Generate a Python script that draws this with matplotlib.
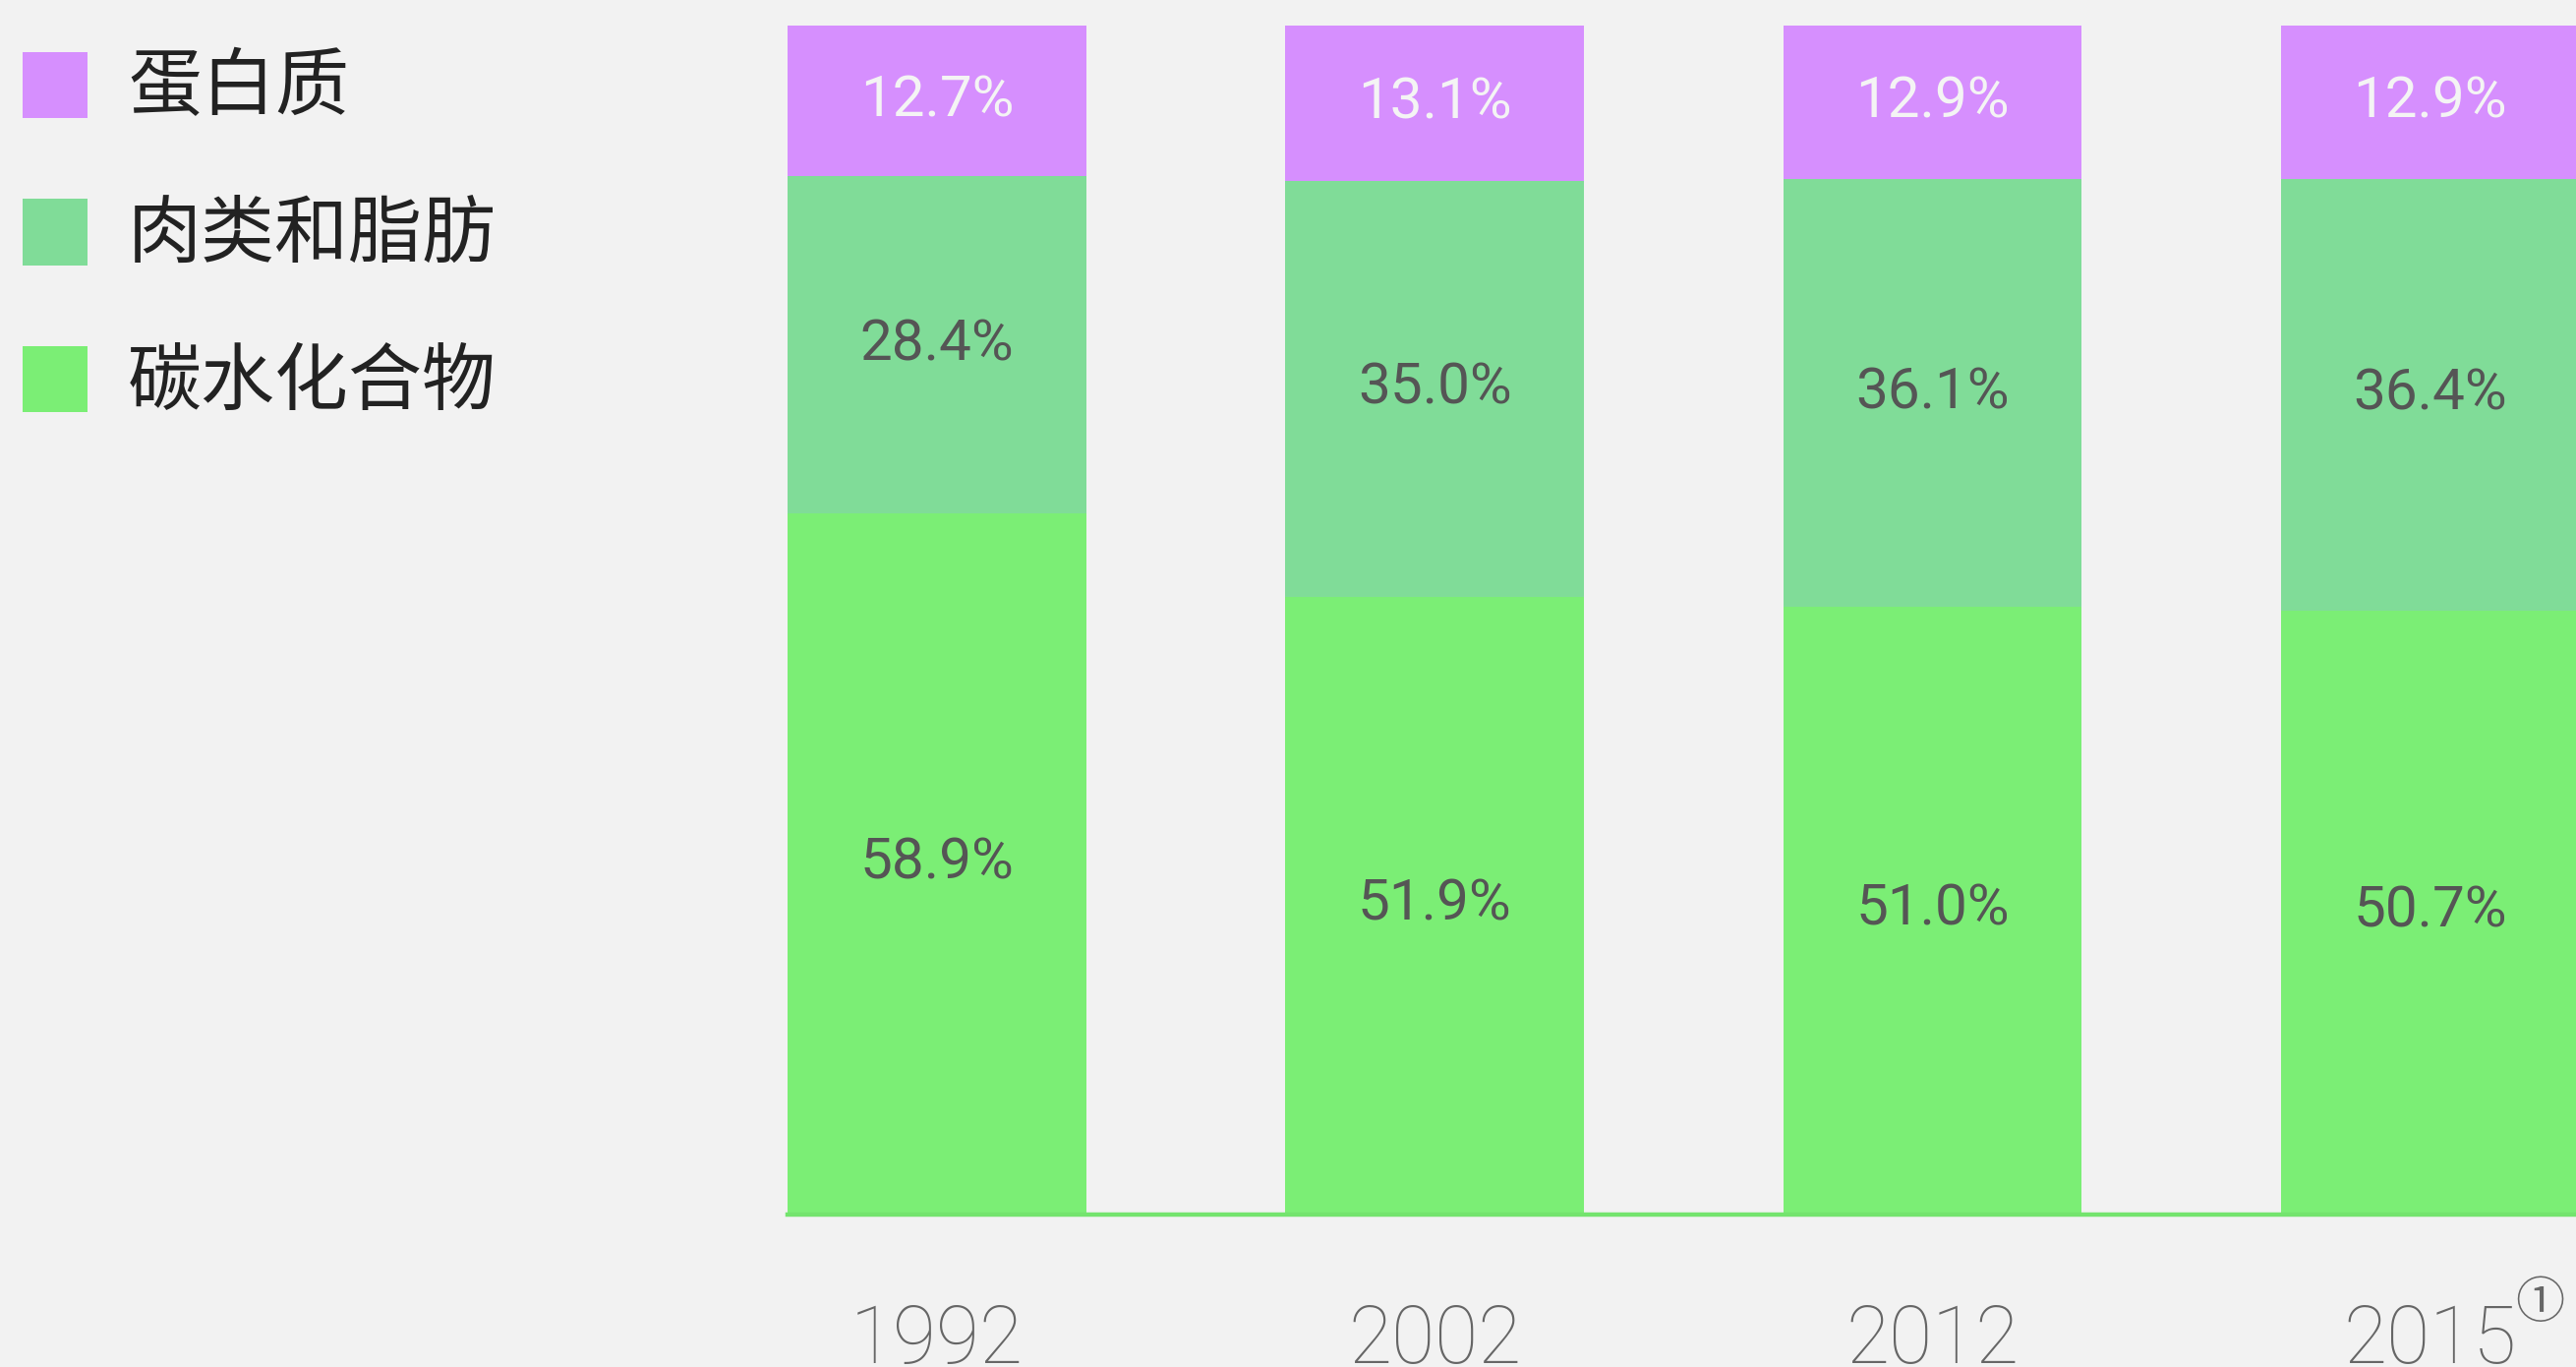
import numpy as np
import matplotlib
matplotlib.use("Agg")
import matplotlib.pyplot as plt
from matplotlib.patches import Rectangle

# data
years = ["1992", "2002", "2012", "2015"]
carbs = [58.9, 51.9, 51.0, 50.7]      # 碳水化合物
meat_fat = [28.4, 35.0, 36.1, 36.4]   # 肉类和脂肪
protein = [12.7, 13.1, 12.9, 12.9]    # 蛋白质
series_names = ["碳水化合物", "肉类和脂肪", "蛋白质"]
colors = ["#7bee75", "#80dc98", "#d68ffe"]
label_colors = ["#555555", "#555555", "#f4f4f4"]

BG = "#f2f2f2"
W, H = 2620, 1390

fig = plt.figure(figsize=(W / 100, H / 100), dpi=100, facecolor=BG)

# axes placed so that bars land where they sit in the reference
px_per_unit = 506.3
left_px, bottom_px, top_px = 801, 1233, 26
ax = fig.add_axes([left_px / W, (H - bottom_px) / H,
                   (W - left_px) / W, (bottom_px - top_px) / H])
ax.set_facecolor(BG)
ax.set_xlim(-0.3, -0.3 + (W - left_px) / px_per_unit)
ax.set_ylim(0, 100)
px_per_pct = (bottom_px - top_px) / 100

x = np.arange(len(years))
bottom = np.zeros(len(years))
for vals, col, lcol in zip([carbs, meat_fat, protein], colors, label_colors):
    vals = np.array(vals)
    ax.bar(x, vals, width=0.6, bottom=bottom, color=col, linewidth=0)
    for xi, b, v in zip(x, bottom, vals):
        ax.text(xi, b + v / 2, f"{v:.1f}%", ha="center", va="center",
                fontsize=42, family="Roboto", color=lcol)
    bottom += vals

# baseline
for s in ["top", "right", "left"]:
    ax.spines[s].set_visible(False)
ax.spines["bottom"].set_color("#74e46e")
ax.spines["bottom"].set_linewidth(3.2)
ax.spines["bottom"].set_position(("data", -0.2))
ax.set_yticks([])
ax.set_xticks([])

# year labels
year_y = -(1386 - bottom_px) / px_per_pct
for xi, yr in zip(x, years):
    ax.text(xi, year_y, yr, ha="center", va="baseline", fontsize=58,
            family="Roboto", fontweight="light", color="#666666", clip_on=False)
ax.text(3.22, -(1326 - bottom_px) / px_per_pct, "①", ha="center", va="center",
        fontsize=36, family=["Noto Sans CJK SC", "DejaVu Sans"],
        color="#666666", clip_on=False)

# legend (top = protein)
for i, (name, col) in enumerate(zip(series_names[::-1], colors[::-1])):
    top = 53 + i * 149.5
    fig.add_artist(Rectangle((23 / W, 1 - (top + 67) / H), 66 / W, 67 / H,
                             transform=fig.transFigure, color=col, linewidth=0))
    fig.text(130 / W, 1 - (top + 37) / H, name, ha="left", va="center",
             fontsize=54, family=["Noto Sans CJK SC", "DejaVu Sans"], color="#222222")

fig.savefig("out.png", dpi=100, facecolor=BG)
